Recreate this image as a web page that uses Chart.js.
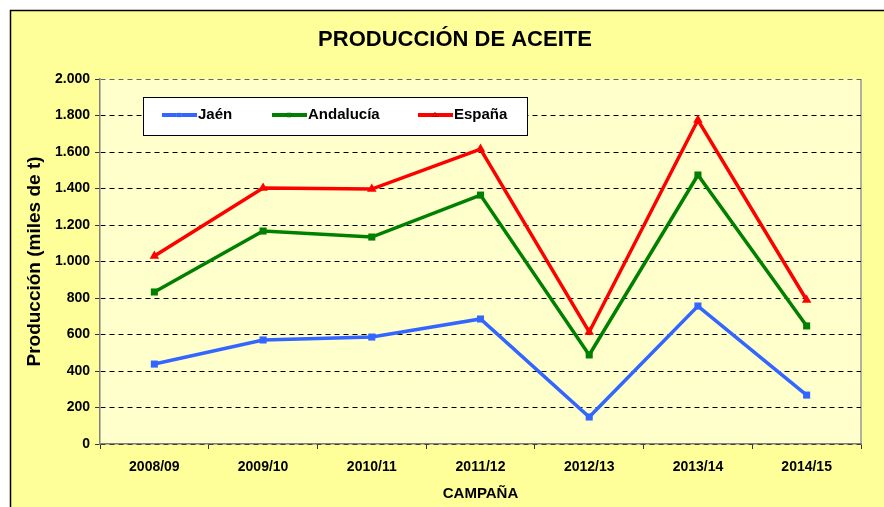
<!DOCTYPE html>
<html>
<head>
<meta charset="utf-8">
<script src="https://cdn.jsdelivr.net/npm/chart.js@4/dist/chart.umd.min.js"></script>
<style>
html,body{margin:0;padding:0;background:#fff}
#wrap{width:884px;height:507px;position:relative}
</style>
</head>
<body>
<div id="wrap"><canvas id="aceite" width="884" height="507"></canvas></div>
<script>
var campanas = ['2008/09','2009/10','2010/11','2011/12','2012/13','2013/14','2014/15']
var jaen = [438,570,586,685,148,756,268]
var andalucia = [833,1167,1134,1364,488,1474,647]
var espana = [1030,1403,1397,1616,614,1775,789]
var titulo = 'PRODUCCIÓN DE ACEITE'
var font = "'Liberation Sans', Arial, sans-serif"

function miles(v){
    return String(v).replace(/\B(?=(\d{3})+(?!\d))/g,'.')
}

// fondo amarillo del grafico, area de trazado y titulo
var fondo = {
    id:'fondo',
    beforeDraw(chart){
        var c = chart.ctx, a = chart.chartArea
        c.save()
        c.fillStyle = '#ffff99'
        c.fillRect(10,10,chart.width-10,chart.height-10)
        c.strokeStyle = '#000'
        c.lineWidth = 1.5
        c.beginPath()
        c.moveTo(10.5,chart.height)
        c.lineTo(10.5,10.5)
        c.lineTo(chart.width,10.5)
        c.stroke()
        c.fillStyle = '#ffffcc'
        c.fillRect(a.left,a.top,a.right-a.left,a.bottom-a.top)
        c.strokeStyle = '#999'
        c.lineWidth = 1.5
        c.beginPath()
        c.moveTo(a.right,a.top)
        c.lineTo(a.right,a.bottom)
        c.stroke()
        c.fillStyle = '#000'
        c.font = 'bold 22px '+font
        c.textAlign = 'center'
        c.textBaseline = 'middle'
        c.fillText(titulo,455,40)
        c.restore()
    }
}

// leyenda dentro del area, con recuadro blanco
var leyenda = {
    id:'leyenda',
    afterDraw(chart){
        var c = chart.ctx, a = chart.chartArea
        var x0 = a.left+43, y0 = a.top+18, w = 384, h = 38
        c.save()
        c.fillStyle = '#fff'
        c.fillRect(x0,y0,w,h)
        c.strokeStyle = '#000'
        c.lineWidth = 1
        c.strokeRect(x0+0.5,y0+0.5,w,h)
        var pos = [19,129,275]
        c.font = 'bold 15px '+font
        c.textBaseline = 'middle'
        chart.data.datasets.forEach(function(ds,i){
            var x = x0+pos[i], y = y0+18
            c.strokeStyle = ds.borderColor
            c.lineWidth = 4
            c.beginPath()
            c.moveTo(x,y)
            c.lineTo(x+35,y)
            c.stroke()
            Chart.helpers.drawPoint(c,{pointStyle:ds.pointStyle,radius:3,borderWidth:0},x+17,y)
            c.fillStyle = ds.borderColor
            c.fill()
            c.fillStyle = '#000'
            c.fillText(ds.label,x+36,y)
        })
        c.restore()
    }
}

var ctx = document.getElementById('aceite').getContext('2d')
var chart1 = new Chart(ctx,{
    type:'line',
    plugins:[fondo,leyenda],
    data:{
        labels:campanas,
        datasets:[{
            label:'Jaén',
            data:jaen,
            borderColor:'#3366ff',
            backgroundColor:'#3366ff',
            pointStyle:'rect',
            pointRadius:5
        },{
            label:'Andalucía',
            data:andalucia,
            borderColor:'#008000',
            backgroundColor:'#008000',
            pointStyle:'rect',
            pointRadius:5
        },{
            label:'España',
            data:espana,
            borderColor:'#ff0000',
            backgroundColor:'#ff0000',
            pointStyle:'triangle',
            pointRadius:5.5
        }]
    },
    options:{
        responsive:false,
        animation:false,
        layout:{padding:{left:10,right:23,top:79,bottom:0}},
        elements:{
            line:{borderWidth:3.5,tension:0},
            point:{borderWidth:0}
        },
        plugins:{
            legend:{display:false},
            tooltip:{enabled:false},
            title:{display:false}
        },
        scales:{
            x:{
                offset:true,
                afterFit:function(s){ s.height = 63 },
                grid:{
                    offset:true,
                    drawOnChartArea:false,
                    drawTicks:true,
                    tickLength:5,
                    color:'#333'
                },
                border:{color:'#808080',width:1.5},
                ticks:{
                    color:'#000',
                    padding:10,
                    maxRotation:0,
                    font:{family:font,size:14,weight:'bold'}
                },
                title:{
                    display:true,
                    text:'CAMPAÑA',
                    color:'#000',
                    font:{family:font,size:15,weight:'bold'},
                    padding:{top:4,bottom:4}
                }
            },
            y:{
                min:0,
                max:2000,
                afterFit:function(s){ s.width = 90 },
                grid:{
                    color:function(c){ return c.tick && c.tick.value==2000 ? '#666' : '#000' },
                    tickLength:5,
                    tickColor:'#333'
                },
                border:{color:'#808080',width:1.5,dash:[5,4]},
                ticks:{
                    stepSize:200,
                    color:'#000',
                    padding:5,
                    font:{family:font,size:14,weight:'bold'},
                    callback:function(v){ return miles(v) }
                },
                title:{
                    display:true,
                    text:'Producción (miles de t)',
                    color:'#000',
                    font:{family:font,size:19,weight:'bold'},
                    padding:{top:13,bottom:0}
                }
            }
        }
    }
})
</script>
</body>
</html>
